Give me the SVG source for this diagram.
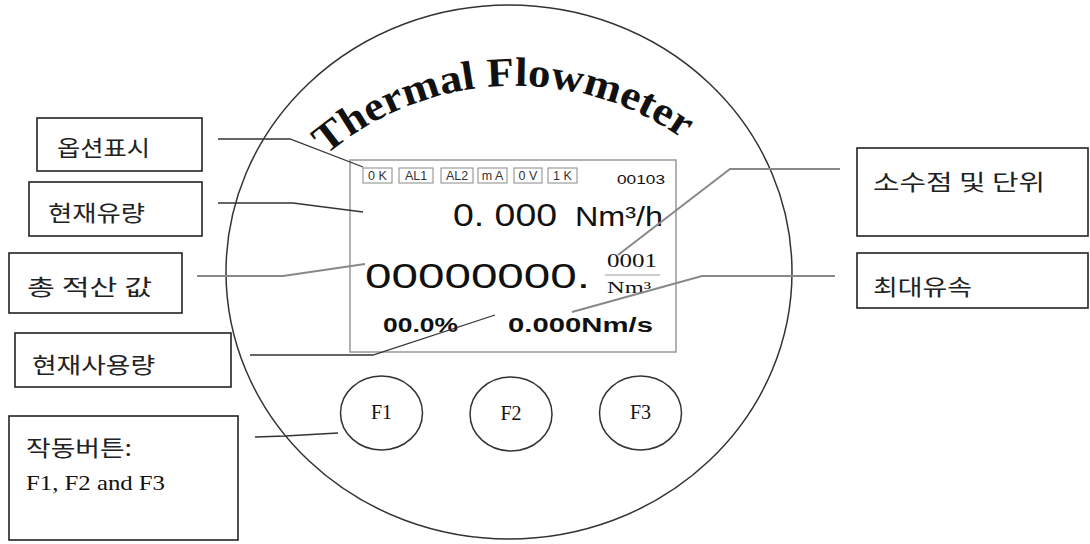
<svg xmlns="http://www.w3.org/2000/svg" width="1090" height="544" viewBox="0 0 1090 544">
<style>
.box{fill:#fff;stroke:#222;stroke-width:1.6}
.lbl{font-family:"Noto Sans CJK KR","Noto Sans",sans-serif;font-size:22px;fill:#222}
.ser{font-family:"Liberation Serif",serif;fill:#111}
.ln{fill:none;stroke:#333;stroke-width:1.3}
.lng{fill:none;stroke:#888;stroke-width:2}
.st{fill:#fff;stroke:#888;stroke-width:1}
.stt{font-family:"Liberation Sans",Arial,sans-serif;font-size:12.5px;fill:#333}
.dsp{font-family:"Liberation Sans",Arial,sans-serif;fill:#111}
.btn{fill:#fff;stroke:#333;stroke-width:1.5}
.btt{font-family:"Liberation Serif",serif;font-size:20px;fill:#111;text-anchor:middle}
</style>
<defs>
<path id="arc" d="M 262 232 A 292 292 0 0 1 768 232"/>
</defs>

<g id="meter">
<ellipse cx="509" cy="272" rx="283" ry="267" fill="none" stroke="#333" stroke-width="1.5"/>
<text class="ser" font-size="41" font-weight="bold"><textPath href="#arc" startOffset="100" textLength="385" lengthAdjust="spacingAndGlyphs">Thermal Flowmeter</textPath></text>
</g>

<g id="display">
<rect x="350" y="160" width="326" height="192" fill="none" stroke="#999" stroke-width="1.5"/>
<rect class="st" x="363" y="168" width="29" height="15"/>
<text class="stt" x="377.5" y="180" text-anchor="middle">0 K</text>
<rect class="st" x="399" y="168" width="34" height="15"/>
<text class="stt" x="416" y="180" text-anchor="middle">AL1</text>
<rect class="st" x="441" y="168" width="32" height="15"/>
<text class="stt" x="457" y="180" text-anchor="middle">AL2</text>
<rect class="st" x="478" y="168" width="29" height="15"/>
<text class="stt" x="492.5" y="180" text-anchor="middle">m A</text>
<rect class="st" x="514" y="168" width="28" height="15"/>
<text class="stt" x="528" y="180" text-anchor="middle">0 V</text>
<rect class="st" x="548" y="168" width="29" height="15"/>
<text class="stt" x="562.5" y="180" text-anchor="middle">1 K</text>
<text class="dsp" x="617" y="184" font-size="12" textLength="48" lengthAdjust="spacingAndGlyphs">00103</text>
<text class="dsp" x="453" y="226" font-size="32" textLength="104" lengthAdjust="spacingAndGlyphs">0. 000</text>
<text class="dsp" x="575" y="226" font-size="28" textLength="88" lengthAdjust="spacingAndGlyphs">Nm³/h</text>
<text class="dsp" x="365" y="288" font-size="35" textLength="225" lengthAdjust="spacingAndGlyphs">00000000.</text>
<text class="ser" x="607" y="267" font-size="18" textLength="50" lengthAdjust="spacingAndGlyphs">0001</text>
<line x1="605" y1="275" x2="660" y2="275" stroke="#999" stroke-width="1"/>
<text class="ser" x="607" y="293" font-size="16" textLength="44" lengthAdjust="spacingAndGlyphs">Nm³</text>
<text class="dsp" x="383" y="332" font-size="20" font-weight="bold" textLength="75" lengthAdjust="spacingAndGlyphs">00.0%</text>
<text class="dsp" x="508" y="332" font-size="20" font-weight="bold" textLength="145" lengthAdjust="spacingAndGlyphs">0.000Nm/s</text>
</g>

<g id="btn-f1"><ellipse class="btn" cx="381.5" cy="413" rx="41" ry="37"/><text class="btt" x="381.5" y="419">F1</text></g>
<g id="btn-f2"><ellipse class="btn" cx="511" cy="414" rx="41" ry="37"/><text class="btt" x="511" y="420">F2</text></g>
<g id="btn-f3"><ellipse class="btn" cx="640.5" cy="413" rx="41" ry="37"/><text class="btt" x="640.5" y="419">F3</text></g>

<g id="lbl-option"><rect class="box" x="37" y="118" width="165" height="53"/><text class="lbl" x="57" y="156" textLength="93" lengthAdjust="spacingAndGlyphs">옵션표시</text></g>
<g id="lbl-flow"><rect class="box" x="29" y="182" width="173" height="54"/><text class="lbl" x="48" y="221" textLength="97" lengthAdjust="spacingAndGlyphs">현재유량</text></g>
<g id="lbl-total"><rect class="box" x="9" y="253" width="173" height="60"/><text class="lbl" x="27" y="295" textLength="125" lengthAdjust="spacingAndGlyphs">총 적산 값</text></g>
<g id="lbl-usage"><rect class="box" x="15" y="333" width="216" height="54"/><text class="lbl" x="32" y="373" textLength="123" lengthAdjust="spacingAndGlyphs">현재사용량</text></g>
<g id="lbl-buttons"><rect class="box" x="9" y="416" width="229" height="124"/><text class="lbl" x="26" y="456" textLength="106" lengthAdjust="spacingAndGlyphs">작동버튼:</text><text class="ser" x="26" y="490" font-size="21" textLength="139" lengthAdjust="spacingAndGlyphs">F1, F2 and F3</text></g>
<g id="lbl-unit"><rect class="box" x="857" y="148" width="231" height="88"/><text class="lbl" x="873" y="190" textLength="172" lengthAdjust="spacingAndGlyphs">소수점 및 단위</text></g>
<g id="lbl-maxvel"><rect class="box" x="857" y="253" width="231" height="55"/><text class="lbl" x="873" y="295" textLength="99" lengthAdjust="spacingAndGlyphs">최대유속</text></g>

<g id="connectors">
<polyline class="ln" points="218,139 290,139 363,167"/>
<polyline class="ln" points="218,203 293,203 363,212"/>
<polyline class="lng" points="197,276 283,276 365,264"/>
<polyline class="ln" points="250,355 373,355 495,315"/>
<polyline class="ln" points="255,437 285,436 338,433"/>
<polyline class="lng" points="840,169 730,169 618,255"/>
<polyline class="lng" points="835,276 702,276 572,312"/>
</g>
</svg>
